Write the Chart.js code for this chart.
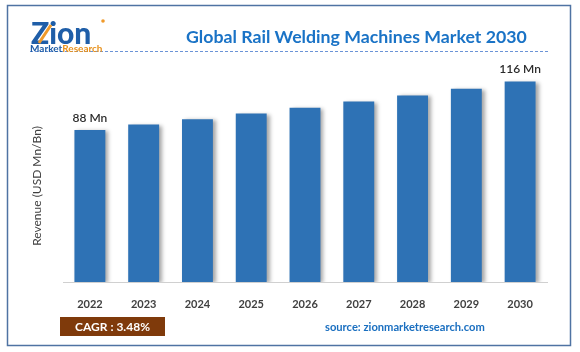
<!DOCTYPE html>
<html>
<head>
<meta charset="utf-8">
<script src="https://cdn.jsdelivr.net/npm/chart.js@4.4.0/dist/chart.umd.min.js"></script>
<style>
  html, body { margin: 0; padding: 0; background: #fff; }
  #wrap { width: 580px; height: 352px; position: relative; }
</style>
</head>
<body>
<div id="wrap"><canvas id="barChart" width="580" height="352"></canvas></div>
<script>
// chart data
const years = ['2022', '2023', '2024', '2025', '2026', '2027', '2028', '2029', '2030'];
const revenue = [88, 91.1, 94.2, 97.5, 100.9, 104.4, 108.0, 111.8, 116];
const valueLabels = ['88 Mn', '', '', '', '', '', '', '', '116 Mn'];

const titleText = 'Global Rail Welding Machines Market 2030';
const axisTitle = 'Revenue (USD Mn/Bn)';
const cagrText = 'CAGR : 3.48%';
const sourceText = 'source: zionmarketresearch.com';

const FONT = 'Lato, "Open Sans", sans-serif';

// fit a string into a given width by shrinking the font
function fitFont(ctx, text, weight, size, maxW) {
  ctx.font = `${weight} ${size}px ${FONT}`;
  const w = ctx.measureText(text).width;
  if (w > maxW) {
    size = size * maxW / w;
    ctx.font = `${weight} ${size}px ${FONT}`;
  }
  return size;
}

// soft shadow on the bars
const barShadow = {
  id: 'barShadow',
  beforeDatasetsDraw(chart) {
    const ctx = chart.ctx;
    ctx.save();
    ctx.shadowColor = 'rgba(0,0,0,0.35)';
    ctx.shadowBlur = 4;
    ctx.shadowOffsetX = 3;
    ctx.shadowOffsetY = 1;
  },
  afterDatasetsDraw(chart) {
    chart.ctx.restore();
  }
};

// value labels above first / last bar
const valueLabelPlugin = {
  id: 'valueLabels',
  afterDatasetsDraw(chart) {
    const ctx = chart.ctx;
    const meta = chart.getDatasetMeta(0);
    ctx.save();
    ctx.fillStyle = '#2b2b2b';
    ctx.font = `600 12px ${FONT}`;
    ctx.textAlign = 'center';
    ctx.textBaseline = 'bottom';
    meta.data.forEach((bar, i) => {
      if (!valueLabels[i]) return;
      ctx.fillText(valueLabels[i], bar.x, bar.y - 6);
    });
    ctx.restore();
  }
};

// frame, logo, title, y-axis title, cagr box and source
const decorations = {
  id: 'decorations',
  afterDraw(chart) {
    const ctx = chart.ctx;
    ctx.save();

    // outer frame
    ctx.strokeStyle = '#4f73a3';
    ctx.lineWidth = 1.5;
    ctx.strokeRect(7.5, 5.5, 563, 340);

    // dashed line under title
    ctx.strokeStyle = '#6b93d6';
    ctx.lineWidth = 1;
    ctx.setLineDash([3, 2]);
    ctx.beginPath();
    ctx.moveTo(30, 51.5);
    ctx.lineTo(548, 51.5);
    ctx.stroke();
    ctx.setLineDash([]);

    // logo
    ctx.textBaseline = 'alphabetic';
    ctx.textAlign = 'left';
    fitFont(ctx, 'Zion', '900', 30, 70);
    ctx.fillStyle = '#1f5ea8';
    ctx.fillText('Zion', 31, 44);
    ctx.strokeStyle = '#f09a2a';
    ctx.lineWidth = 3;
    ctx.beginPath();
    ctx.moveTo(39, 43);
    ctx.lineTo(51, 25);
    ctx.stroke();
    ctx.fillStyle = '#f09a2a';
    ctx.beginPath();
    ctx.arc(103, 21, 1.8, 0, Math.PI * 2);
    ctx.fill();
    ctx.font = `bold 10px ${FONT}`;
    ctx.fillStyle = '#1f5ea8';
    ctx.fillText('Market', 30, 52);
    const mw = ctx.measureText('Market').width;
    ctx.fillStyle = '#e8921e';
    ctx.fillText('Research', 30 + mw, 52);

    // title
    fitFont(ctx, titleText, 'bold', 18, 341);
    ctx.fillStyle = '#1a73c6';
    ctx.textBaseline = 'middle';
    ctx.fillText(titleText, 186, 37);

    // y-axis title
    ctx.save();
    ctx.translate(37, 186);
    ctx.rotate(-Math.PI / 2);
    ctx.textAlign = 'center';
    ctx.font = `12px ${FONT}`;
    ctx.fillStyle = '#404040';
    ctx.fillText(axisTitle, 0, 0);
    ctx.restore();

    // CAGR box
    ctx.fillStyle = '#7f3a0b';
    ctx.fillRect(60, 317, 105, 19);
    ctx.fillStyle = '#ffffff';
    ctx.font = `bold 12px ${FONT}`;
    ctx.textAlign = 'center';
    ctx.fillText(cagrText, 112.5, 327);

    // source
    fitFont(ctx, sourceText, 'bold', 12.5, 160);
    ctx.fillStyle = '#1a6fc0';
    ctx.textAlign = 'left';
    ctx.fillText(sourceText, 325, 327);

    ctx.restore();
  }
};

function buildChart() {
  const el = document.getElementById('barChart');
  return new Chart(el.getContext('2d'), {
    type: 'bar',
    data: {
      labels: years,
      datasets: [{
        label: 'Revenue',
        data: revenue,
        backgroundColor: '#2e72b5',
        borderWidth: 0,
        barPercentage: 0.575,
        categoryPercentage: 1
      }]
    },
    options: {
      responsive: false,
      animation: false,
      layout: { padding: { left: 63, right: 33, top: 70, bottom: 20 } },
      plugins: { legend: { display: false }, tooltip: { enabled: false } },
      scales: {
        x: {
          grid: { display: false },
          border: { display: true, color: '#d0d0d0', width: 1 },
          ticks: { color: '#404040', font: { family: FONT, size: 11, weight: 'bold' }, padding: 8 },
          afterFit(scale) { scale.height = 50; }
        },
        y: {
          display: false,
          min: 0,
          max: 122.7
        }
      }
    },
    plugins: [barShadow, valueLabelPlugin, decorations]
  });
}

buildChart();
</script>
</body>
</html>
